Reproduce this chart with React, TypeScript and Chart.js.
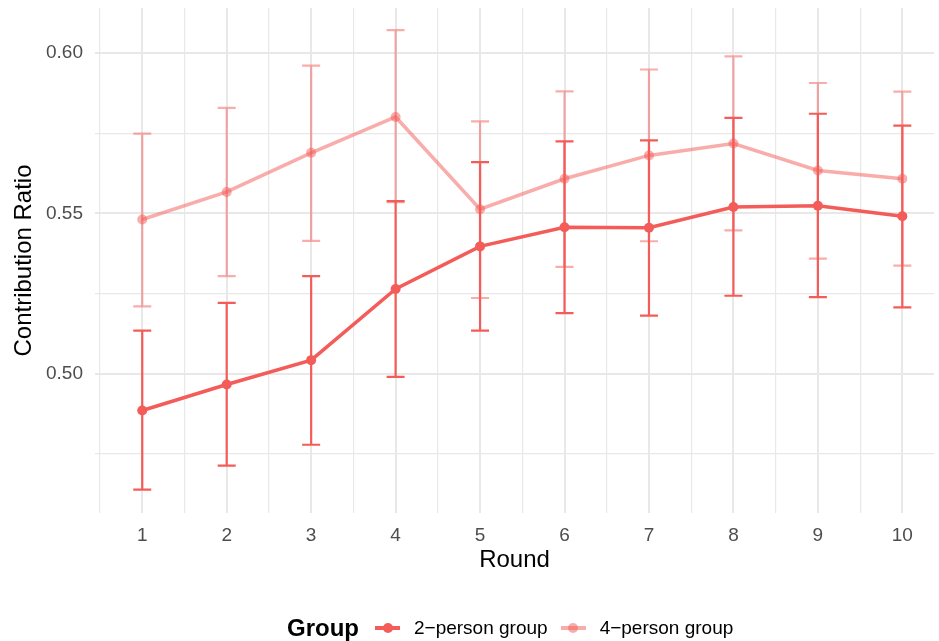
import React, { useEffect, useRef } from "react";
import { Chart, registerables } from "chart.js";

Chart.register(...registerables);

const rounds = [1, 2, 3, 4, 5, 6, 7, 8, 9, 10];
const twoMean = [0.4885, 0.4966, 0.5042, 0.5264, 0.5397, 0.5457, 0.5455, 0.552, 0.5524, 0.5491];
const twoLow = [0.4638, 0.4713, 0.4778, 0.499, 0.5134, 0.5189, 0.5181, 0.5243, 0.5239, 0.5207];
const twoHigh = [0.5134, 0.5221, 0.5304, 0.5538, 0.566, 0.5725, 0.5728, 0.5798, 0.5811, 0.5774];
const fourMean = [0.5481, 0.5567, 0.5689, 0.5801, 0.5513, 0.5608, 0.5681, 0.5718, 0.5634, 0.5608];
const fourLow = [0.521, 0.5304, 0.5414, 0.5535, 0.5236, 0.5333, 0.5413, 0.5447, 0.5359, 0.5337];
const fourHigh = [0.5749, 0.5829, 0.5961, 0.6072, 0.5787, 0.5881, 0.5949, 0.599, 0.5907, 0.588];
const yGridValues = [0.475, 0.5, 0.525, 0.55, 0.575, 0.6];
const yLabelValues = [0.5, 0.55, 0.6];
const xGridValues = [0.5, 1, 1.5, 2, 2.5, 3, 3.5, 4, 4.5, 5, 5.5, 6, 6.5, 7, 7.5, 8, 8.5, 9, 9.5, 10];
const seriesNames = ["2\u2212person group", "4\u2212person group"];
const legendTitle = "Group";
const xTitle = "Round";
const yTitle = "Contribution Ratio";

const RED = "rgb(243, 92, 88)";
const PINK = "rgba(243, 92, 88, 0.5)";
const FONT = "'Liberation Sans', Arial, sans-serif";

const errorBarPlugin = {
  id: "errorBars",
  beforeDatasetsDraw(chart: any) {
    const { ctx, scales } = chart;
    const xs = scales.x;
    const ys = scales.y;
    chart.data.datasets.forEach((ds: any) => {
      const lows: number[] = ds.errLow;
      const highs: number[] = ds.errHigh;
      if (!lows) return;
      ctx.save();
      ctx.strokeStyle = ds.borderColor;
      ctx.lineWidth = 2.2;
      rounds.forEach((r, i) => {
        const x = xs.getPixelForValue(r);
        const y1 = ys.getPixelForValue(lows[i]);
        const y2 = ys.getPixelForValue(highs[i]);
        ctx.beginPath();
        ctx.moveTo(x, y1);
        ctx.lineTo(x, y2);
        ctx.moveTo(x - 9, y1);
        ctx.lineTo(x + 9, y1);
        ctx.moveTo(x - 9, y2);
        ctx.lineTo(x + 9, y2);
        ctx.stroke();
      });
      ctx.restore();
    });
  },
};

function LegendKey({ color }: { color: string }) {
  return (
    <span style={{ position: "relative", display: "inline-block", width: 25, height: 12, marginRight: 14 }}>
      <span style={{ position: "absolute", left: 0, top: 4.5, width: 25, height: 3.5, background: color }} />
      <span style={{ position: "absolute", left: 7.5, top: 1, width: 10, height: 10, borderRadius: 5, background: color }} />
    </span>
  );
}

export default function App() {
  const ref = useRef<HTMLCanvasElement | null>(null);

  useEffect(() => {
    if (!ref.current) return;
    const chart = new Chart(ref.current, {
      type: "line",
      data: {
        datasets: [
          {
            label: seriesNames[0],
            data: rounds.map((r, i) => ({ x: r, y: twoMean[i] })),
            borderColor: RED,
            backgroundColor: RED,
            borderWidth: 3.5,
            pointRadius: 5,
            pointBorderWidth: 0,
            pointHoverRadius: 5,
            order: 1,
            errLow: twoLow,
            errHigh: twoHigh,
          } as any,
          {
            label: seriesNames[1],
            data: rounds.map((r, i) => ({ x: r, y: fourMean[i] })),
            borderColor: PINK,
            backgroundColor: PINK,
            borderWidth: 3.5,
            pointRadius: 5,
            pointBorderWidth: 0,
            pointHoverRadius: 5,
            order: 0,
            errLow: fourLow,
            errHigh: fourHigh,
          } as any,
        ],
      },
      options: {
        animation: false,
        responsive: false,
        maintainAspectRatio: false,
        devicePixelRatio: 1,
        layout: { padding: { top: 8, right: 0, bottom: 0, left: 0 } },
        plugins: { legend: { display: false }, tooltip: { enabled: false } },
        scales: {
          x: {
            type: "linear",
            min: 0.4406,
            max: 10.375,
            afterFit: (s: any) => {
              s.height = 128;
              s.paddingLeft = 0;
              s.paddingRight = 0;
            },
            afterBuildTicks: (s: any) => {
              s.ticks = xGridValues.map((v) => ({ value: v }));
            },
            border: { display: false },
            grid: {
              drawTicks: false,
              color: "#E8E8E8",
              lineWidth: (c: any) => (Number.isInteger(c.tick?.value) ? 2 : 1.2),
            },
            ticks: {
              autoSkip: false,
              maxRotation: 0,
              padding: 11,
              color: "#4D4D4D",
              font: { family: FONT, size: 19 },
              callback: (v: any) => (Number.isInteger(v) ? String(v) : ""),
            },
            title: {
              display: true,
              text: xTitle,
              color: "#000000",
              font: { family: FONT, size: 24 },
              padding: { top: 0, bottom: 66 },
            },
          },
          y: {
            type: "linear",
            min: 0.4565,
            max: 0.6141,
            afterFit: (s: any) => {
              s.width = 95;
              s.paddingTop = 0;
              s.paddingBottom = 0;
            },
            afterBuildTicks: (s: any) => {
              s.ticks = yGridValues.map((v) => ({ value: v }));
            },
            border: { display: false },
            grid: {
              drawTicks: false,
              color: "#E8E8E8",
              lineWidth: (c: any) =>
                yLabelValues.some((v) => Math.abs(v - c.tick?.value) < 1e-6) ? 2 : 1.2,
            },
            ticks: {
              autoSkip: false,
              padding: 12,
              color: "#4D4D4D",
              font: { family: FONT, size: 19 },
              callback: (v: any) =>
                yLabelValues.some((t) => Math.abs(t - v) < 1e-6) ? Number(v).toFixed(2) : "",
            },
            title: {
              display: true,
              text: yTitle,
              color: "#000000",
              font: { family: FONT, size: 24 },
              padding: { top: 10, bottom: 0 },
            },
          },
        },
      },
      plugins: [errorBarPlugin],
    });
    return () => chart.destroy();
  }, []);

  return (
    <div
      style={{
        position: "absolute",
        left: 0,
        top: 0,
        width: 939,
        height: 641,
        background: "#fff",
        overflow: "hidden",
      }}
    >
      <canvas ref={ref} width={939} height={641} style={{ display: "block", width: 939, height: 641 }} />
      <div
        style={{
          position: "absolute",
          left: 287,
          top: 614,
          height: 27,
          display: "flex",
          alignItems: "center",
          fontFamily: FONT,
          whiteSpace: "nowrap",
        }}
      >
        <span style={{ fontSize: 24, fontWeight: "bold", color: "#000", marginRight: 16 }}>{legendTitle}</span>
        <LegendKey color={RED} />
        <span style={{ fontSize: 19, color: "#000", marginRight: 13 }}>{seriesNames[0]}</span>
        <LegendKey color={PINK} />
        <span style={{ fontSize: 19, color: "#000" }}>{seriesNames[1]}</span>
      </div>
    </div>
  );
}
